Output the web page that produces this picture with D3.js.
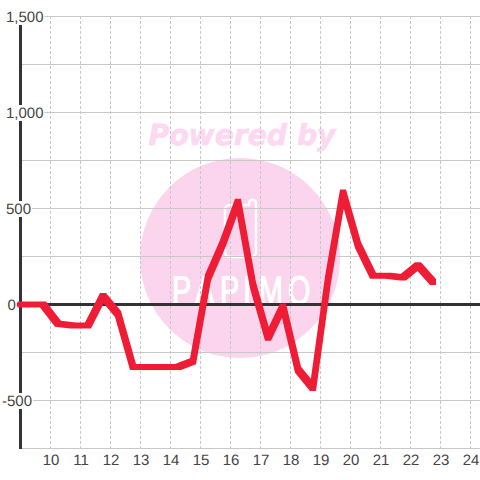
<!DOCTYPE html>
<html><head><meta charset="utf-8">
<script src="https://cdn.jsdelivr.net/npm/d3@7"></script>
<style>html,body{margin:0;padding:0;background:#fff}svg{display:block}text{text-rendering:geometricPrecision}</style>
</head><body><svg id="c" width="480" height="480"></svg>
<script>
const hours=[9,9.25,9.75,10.25,10.75,11.25,11.75,12.25,12.75,13.25,13.75,14.25,14.75,15.25,15.75,16.25,16.75,17.25,17.75,18.25,18.75,19.25,19.75,20.25,20.75,21.25,21.75,22.25,22.75];
const values=[0,0,0,-100,-110,-110,44,-50,-325,-325,-325,-325,-295,140,320,535,100,-173,-11,-340,-435,130,583,310,150,150,140,205,117];
const xTicks=[10,11,12,13,14,15,16,17,18,19,20,21,22,23,24];
const yMajor=[1500,1000,500,0,-500];
const yMinor=[1250,750,250,-250,-750];
const logoLetters=["P","A","P","I","M","O"];
const logoLeft=[172,195,220,243,259,288];
const svg=d3.select("#c");
const x=d3.scaleLinear().domain([9,24]).range([20.5,470.5]);
const y=d3.scaleLinear().domain([-750,1500]).range([448.5,16.5]);
const font="'Liberation Sans',Arial,sans-serif";
svg.append("rect").attr("width",480).attr("height",480).attr("fill","#fff");
// watermark
const wm=svg.append("g");
wm.append("circle").attr("cx",240).attr("cy",258).attr("r",100).attr("fill","#fbd5ee");
wm.append("text").attr("x",242).attr("y",145).attr("text-anchor","middle").attr("font-family","'DejaVu Sans'").attr("font-weight","bold").attr("font-style","italic").attr("font-size",29).attr("textLength",187).attr("lengthAdjust","spacingAndGlyphs").attr("fill","#fcd9f0").attr("stroke","#fcd9f0").attr("stroke-width",0.6).text("Powered by");
wm.append("path").attr("d","M249 205H230a5 5 0 0 0-5 5V252a5 5 0 0 0 5 5H251a5 5 0 0 0 5-5V203a3 3 0 0 0-3-3H252a3 3 0 0 0-3 3Z").attr("fill","none").attr("stroke","#fff").attr("stroke-width",2.4);
wm.selectAll("text.logo").data(logoLetters).join("text").attr("class","logo").attr("transform",(d,i)=>`translate(${logoLeft[i]},304) scale(0.72,1)`).attr("font-family","'Liberation Sans'").attr("font-size",40).attr("fill","#fff").attr("stroke","#fff").attr("stroke-width",1.2).text(d=>d);
// grid
svg.append("g").selectAll("line").data(xTicks).join("line").attr("x1",d=>x(d)).attr("x2",d=>x(d)).attr("y1",16).attr("y2",448).attr("stroke","#c8c8c8").attr("stroke-dasharray","3 2");
svg.append("g").selectAll("line").data(yMinor).join("line").attr("x1",20).attr("x2",480).attr("y1",d=>y(d)).attr("y2",d=>y(d)).attr("stroke","#c8c8c8");
svg.append("g").selectAll("line").data(yMajor.filter(d=>d!==0)).join("line").attr("x1",0).attr("x2",480).attr("y1",d=>y(d)).attr("y2",d=>y(d)).attr("stroke","#c8c8c8");
// axes
svg.append("line").attr("x1",20.5).attr("x2",20.5).attr("y1",16).attr("y2",449).attr("stroke","#333").attr("stroke-width",3);
svg.append("line").attr("x1",0).attr("x2",480).attr("y1",y(0)).attr("y2",y(0)).attr("stroke","#333").attr("stroke-width",3);
const xa=svg.append("g").attr("transform","translate(0,448.5)").call(d3.axisBottom(x).tickValues(xTicks).tickSize(0).tickPadding(6).tickFormat(d3.format("d")));
xa.select(".domain").remove();
xa.selectAll("text").attr("font-family",font).attr("font-size",15).attr("fill","#444");
const ya=svg.append("g").call(d3.axisLeft(y).tickValues(yMajor).tickSize(0).tickFormat(d=>d3.format(",")(d).replace("\u2212","-")));
ya.select(".domain").remove();
ya.selectAll("text").attr("font-family",font).attr("font-size",15).attr("fill","#444").attr("text-anchor","start").attr("x",d=>d<0?2:d===0?7.5:6).attr("dy","0.3em");
ya.selectAll(".tick").each(function(){
  const t=d3.select(this).select("text"),b=t.node().getBBox();
  d3.select(this).insert("rect","text").attr("x",0).attr("y",-8).attr("width",b.x+b.width+1).attr("height",16).attr("fill","#fff");
});
// series: swept square pen
const pen=3;
const pts=values.map((v,i)=>[x(hours[i]),y(v)]);
const segs=d3.pairs(pts).map(([a,b])=>{
  const c=[];
  for(const p of [a,b]) for(const dx of [-pen,pen]) for(const dy of [-pen,pen]) c.push([p[0]+dx,p[1]+dy]);
  return "M"+d3.polygonHull(c).join("L")+"Z";
});
svg.append("path").attr("d",segs.join("")).attr("fill","#ef1c36");
</script></body></html>
